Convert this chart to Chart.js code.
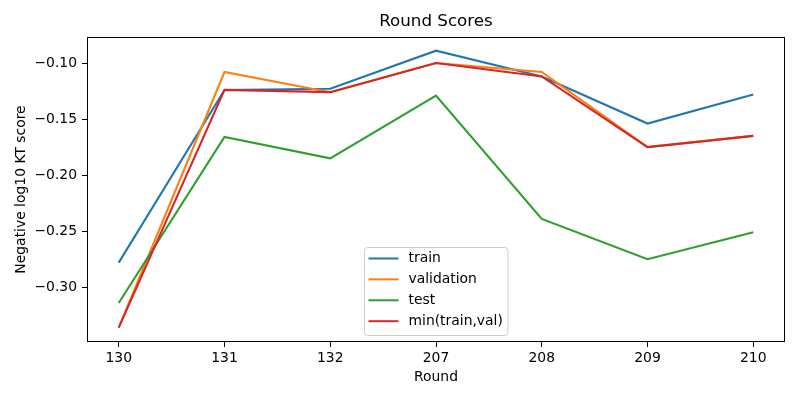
<!DOCTYPE html>
<html>
<head>
<meta charset="utf-8">
<script src="https://cdn.jsdelivr.net/npm/chart.js@4.4.0/dist/chart.umd.min.js"></script>
<style>
  html, body { margin: 0; padding: 0; background: #fff; }
</style>
</head>
<body>
<canvas id="grafico" width="800" height="400"></canvas>
<script>
// Round Scores
const rounds = ['130', '131', '132', '207', '208', '209', '210'];
const trainScores = [-0.278, -0.124, -0.123, -0.089, -0.112, -0.154, -0.128];
const validationScores = [-0.336, -0.108, -0.126, -0.100, -0.108, -0.175, -0.165];
const testScores = [-0.314, -0.166, -0.185, -0.129, -0.239, -0.275, -0.251];
const minScores = [-0.336, -0.124, -0.126, -0.100, -0.112, -0.175, -0.165];
const yTicks = [-0.30, -0.25, -0.20, -0.15, -0.10];

const FONT = 'DejaVu Sans';
const toPoints = arr => arr.map((v, i) => ({ x: i, y: v }));

// titulo centrado sobre el area del grafico, como matplotlib
const titlePlugin = {
    id: 'titleMpl',
    afterDraw(chart) {
        const { ctx, chartArea } = chart;
        ctx.save();
        ctx.fillStyle = '#000';
        ctx.font = '16.7px "' + FONT + '"';
        ctx.textAlign = 'center';
        ctx.textBaseline = 'middle';
        ctx.fillText('Round Scores', (chartArea.left + chartArea.right) / 2, 22);
        ctx.restore();
    }
};

// marco completo y leyenda dentro del area
const framePlugin = {
    id: 'frameLegend',
    afterDraw(chart) {
        const { ctx, chartArea } = chart;
        ctx.save();
        ctx.strokeStyle = '#000';
        ctx.lineWidth = 1;
        ctx.strokeRect(chartArea.left + 0.5, chartArea.top + 0.5,
            chartArea.right - chartArea.left - 1, chartArea.bottom - chartArea.top - 1);

        ctx.font = '13.9px "' + FONT + '"';
        const ds = chart.data.datasets;
        const textW = Math.max(...ds.map(d => ctx.measureText(d.label).width));
        const w = 4 + 30 + 10 + textW + 5;
        const rowH = 20.9;
        const h = 88;
        const x0 = Math.round((chartArea.left + chartArea.right) / 2 - w / 2) + 0.5;
        const y0 = Math.round(chartArea.bottom - 7 - h) + 0.5;
        ctx.fillStyle = 'rgba(255,255,255,0.8)';
        ctx.strokeStyle = '#cccccc';
        ctx.beginPath();
        ctx.roundRect(x0, y0, w, h, 3);
        ctx.fill();
        ctx.stroke();
        ds.forEach((d, i) => {
            const cy = y0 + 11 + i * rowH;
            ctx.strokeStyle = d.borderColor;
            ctx.lineWidth = 2;
            ctx.beginPath();
            ctx.moveTo(x0 + 4, cy);
            ctx.lineTo(x0 + 34, cy);
            ctx.stroke();
            ctx.fillStyle = '#000';
            ctx.textAlign = 'left';
            ctx.textBaseline = 'middle';
            ctx.fillText(d.label, x0 + 44, cy);
        });
        ctx.restore();
    }
};

const ctx = document.getElementById('grafico').getContext('2d');
new Chart(ctx, {
    type: 'line',
    data: {
        datasets: [
            { label: 'train', data: toPoints(trainScores), borderColor: '#1f77b4', order: 4 },
            { label: 'validation', data: toPoints(validationScores), borderColor: '#ff7f0e', order: 3 },
            { label: 'test', data: toPoints(testScores), borderColor: '#2ca02c', order: 2 },
            { label: 'min(train,val)', data: toPoints(minScores), borderColor: '#d62728', order: 1 }
        ]
    },
    options: {
        responsive: false,
        animation: false,
        devicePixelRatio: 1,
        layout: { padding: { top: 37, right: 15, left: 0, bottom: 0 } },
        elements: {
            point: { radius: 0 },
            line: { borderWidth: 2.1, tension: 0, fill: false }
        },
        plugins: {
            legend: { display: false },
            title: { display: false },
            tooltip: { enabled: false }
        },
        scales: {
            x: {
                type: 'linear',
                min: -0.3,
                max: 6.3,
                afterBuildTicks: s => { s.ticks = rounds.map((r, i) => ({ value: i })); },
                afterFit: s => { s.height = 58; },
                ticks: {
                    callback: v => rounds[v],
                    color: '#000',
                    font: { family: FONT, size: 13.9 },
                    padding: 3,
                    maxRotation: 0
                },
                grid: { drawOnChartArea: false, tickLength: 5, color: '#000' },
                border: { display: false },
                title: {
                    display: true,
                    text: 'Round',
                    color: '#000',
                    font: { family: FONT, size: 13.9 },
                    padding: { top: 0, bottom: 14.7 }
                }
            },
            y: {
                min: -0.3488,
                max: -0.0768,
                afterBuildTicks: s => { s.ticks = yTicks.map(v => ({ value: v })); },
                afterFit: s => { s.width = 87; },
                ticks: {
                    callback: v => '\u2212' + Math.abs(v).toFixed(2),
                    color: '#000',
                    font: { family: FONT, size: 13.9 },
                    padding: 5
                },
                grid: { drawOnChartArea: false, tickLength: 5, color: '#000' },
                border: { display: false },
                title: {
                    display: true,
                    text: 'Negative log10 KT score',
                    color: '#000',
                    font: { family: FONT, size: 13.9 },
                    padding: { top: 12.7, bottom: 0 }
                }
            }
        }
    },
    plugins: [titlePlugin, framePlugin]
});
</script>
</body>
</html>
